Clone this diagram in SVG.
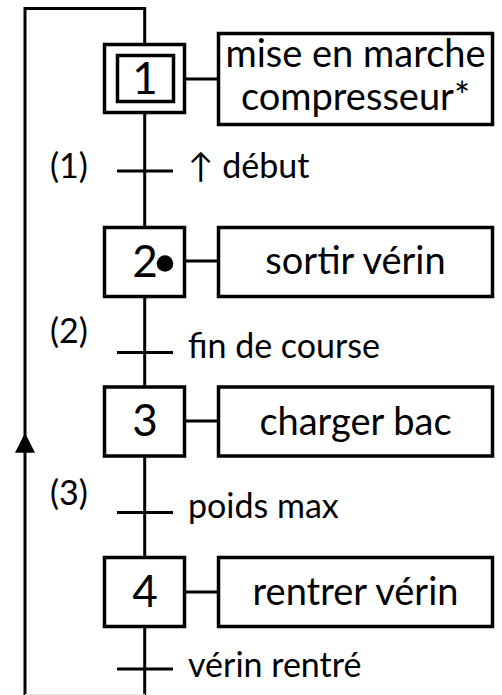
<svg xmlns="http://www.w3.org/2000/svg" width="502" height="695" viewBox="0 0 502 695">
  <style>
    .ln { fill: none; stroke: #000; stroke-width: 3; }
    .box { fill: #fff; stroke: #000; stroke-width: 3.5; }
    .num { font-family: Lato, "Liberation Sans", sans-serif; font-size: 44px; fill: #000; text-anchor: middle; }
    .act { font-family: Lato, "Liberation Sans", sans-serif; font-size: 38px; fill: #000; text-anchor: middle; }
    .lbl { font-family: Lato, "Liberation Sans", sans-serif; font-size: 34px; fill: #000; }
  </style>
  <rect width="502" height="695" fill="#fff"/>

  <!-- connectors: main flow, loop-back, action links, transitions -->
  <g id="connectors">
    <path class="ln" d="M25,695 V8.5 H144.7 V44"/>
    <line class="ln" x1="144.7" y1="113" x2="144.7" y2="227"/>
    <line class="ln" x1="144.7" y1="297" x2="144.7" y2="387"/>
    <line class="ln" x1="144.7" y1="456" x2="144.7" y2="557"/>
    <line class="ln" x1="144.7" y1="627" x2="144.7" y2="695"/>
    <line x1="25" y1="694.5" x2="145" y2="694.5" stroke="#e6e6e6" stroke-width="1"/>
    <polygon points="25,432.7 15,452.7 35,452.7" fill="#000"/>
    <line class="ln" x1="185" y1="79" x2="218" y2="79"/>
    <line class="ln" x1="185" y1="261" x2="218" y2="261"/>
    <line class="ln" x1="185" y1="421" x2="218" y2="421"/>
    <line class="ln" x1="185" y1="592" x2="218" y2="592"/>
    <line class="ln" x1="117" y1="171" x2="173" y2="171"/>
    <line class="ln" x1="117" y1="352.5" x2="173" y2="352.5"/>
    <line class="ln" x1="117" y1="512.5" x2="173" y2="512.5"/>
    <line class="ln" x1="117" y1="669" x2="173" y2="669"/>
  </g>

  <!-- transition labels -->
  <g id="t1">
    <text class="lbl" x="50" y="178">(1)</text>
    <text class="lbl" x="188" y="178">↑ début</text>
  </g>
  <g id="t2">
    <text class="lbl" x="50" y="343">(2)</text>
    <text class="lbl" x="188" y="358">fin de course</text>
  </g>
  <g id="t3">
    <text class="lbl" x="50" y="505">(3)</text>
    <text class="lbl" x="188" y="518">poids max</text>
  </g>
  <g id="t4">
    <text class="lbl" x="188" y="677">vérin rentré</text>
  </g>

  <!-- step 1 (initial step) -->
  <g id="step1">
    <rect class="box" x="104.5" y="44.5" width="80" height="68"/>
    <rect class="box" x="117.5" y="55.5" width="56" height="46"/>
    <text class="num" x="145" y="94">1</text>
  </g>
  <g id="action1">
    <rect class="box" x="218.5" y="33.5" width="274" height="91"/>
    <text class="act" x="355.5" y="67">mise en marche</text>
    <text class="act" x="355.5" y="110">compresseur*</text>
  </g>

  <!-- step 2 (active) -->
  <g id="step2">
    <rect class="box" x="104.5" y="227.5" width="80" height="69"/>
    <text class="num" x="145" y="277">2</text>
    <circle cx="165" cy="263.5" r="8.3" fill="#000"/>
  </g>
  <g id="action2">
    <rect class="box" x="218.5" y="227.5" width="274" height="69"/>
    <text class="act" x="355.5" y="274">sortir vérin</text>
  </g>

  <!-- step 3 -->
  <g id="step3">
    <rect class="box" x="104.5" y="387" width="80" height="69"/>
    <text class="num" x="145" y="436">3</text>
  </g>
  <g id="action3">
    <rect class="box" x="218.5" y="387" width="274" height="69"/>
    <text class="act" x="355.5" y="435">charger bac</text>
  </g>

  <!-- step 4 -->
  <g id="step4">
    <rect class="box" x="104.5" y="557.5" width="80" height="69"/>
    <text class="num" x="145" y="607">4</text>
  </g>
  <g id="action4">
    <rect class="box" x="218.5" y="557.5" width="274" height="69"/>
    <text class="act" x="355.5" y="605">rentrer vérin</text>
  </g>
</svg>
